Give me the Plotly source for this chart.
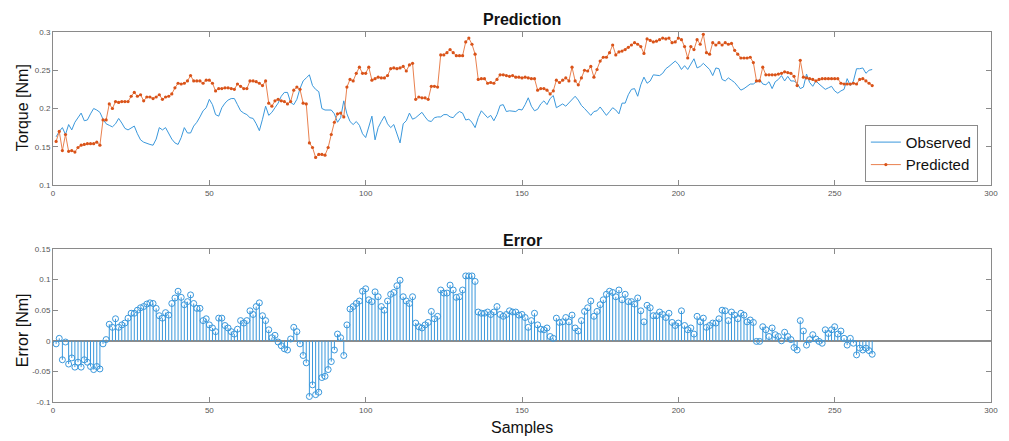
import plotly.graph_objects as go

samples = list(range(1, 263))

observed = [
    0.163, 0.170, 0.175, 0.166, 0.179, 0.172, 0.182, 0.188, 0.194, 0.184,
    0.185, 0.193, 0.200, 0.198, 0.195, 0.186, 0.180, 0.178, 0.176, 0.180,
    0.187, 0.181, 0.174, 0.172, 0.175, 0.177, 0.167, 0.159, 0.156, 0.155,
    0.153, 0.152, 0.160, 0.175, 0.172, 0.175, 0.167, 0.160, 0.155, 0.153,
    0.162, 0.175, 0.168, 0.168, 0.177, 0.182, 0.189, 0.197, 0.201, 0.212,
    0.205, 0.192, 0.190, 0.201, 0.207, 0.211, 0.213, 0.213, 0.205, 0.197,
    0.194, 0.192, 0.188, 0.187, 0.180, 0.171, 0.186, 0.203, 0.191, 0.195,
    0.201, 0.207, 0.216, 0.221, 0.221, 0.208, 0.205, 0.212, 0.226, 0.236,
    0.240, 0.244, 0.230, 0.225, 0.222, 0.200, 0.198, 0.198, 0.198, 0.193,
    0.182, 0.188, 0.210, 0.193, 0.183, 0.179, 0.183, 0.178, 0.167, 0.162,
    0.176, 0.190, 0.159, 0.175, 0.183, 0.190, 0.180, 0.175, 0.179, 0.168,
    0.155, 0.180, 0.184, 0.194, 0.186, 0.188, 0.192, 0.195, 0.189, 0.184,
    0.183, 0.188, 0.189, 0.189, 0.192, 0.192, 0.189, 0.188, 0.193, 0.196,
    0.194, 0.185, 0.186, 0.182, 0.175, 0.188, 0.197, 0.193, 0.188, 0.191,
    0.184, 0.192, 0.204, 0.205, 0.196, 0.197, 0.196, 0.196, 0.199, 0.198,
    0.205, 0.214, 0.203, 0.197, 0.199, 0.206, 0.210, 0.205, 0.213, 0.217,
    0.201, 0.204, 0.206, 0.203, 0.207, 0.211, 0.216, 0.211, 0.204, 0.200,
    0.195, 0.191, 0.196, 0.197, 0.202, 0.196, 0.191, 0.196, 0.201, 0.198,
    0.193, 0.207, 0.207, 0.218, 0.225, 0.226, 0.216, 0.231, 0.241, 0.233,
    0.236, 0.244, 0.243, 0.243, 0.246, 0.252, 0.255, 0.259, 0.262, 0.258,
    0.251, 0.256, 0.251, 0.258, 0.265, 0.253, 0.255, 0.259, 0.255, 0.251,
    0.243, 0.253, 0.252, 0.238, 0.236, 0.240, 0.237, 0.234, 0.229, 0.224,
    0.226, 0.229, 0.232, 0.232, 0.235, 0.238, 0.232, 0.231, 0.235, 0.226,
    0.235, 0.238, 0.243, 0.236, 0.242, 0.236, 0.236, 0.233, 0.226, 0.228,
    0.245, 0.234, 0.229, 0.236, 0.232, 0.229, 0.225, 0.227, 0.229, 0.223,
    0.220, 0.223, 0.225, 0.239, 0.230, 0.236, 0.252, 0.252, 0.253, 0.246,
    0.250, 0.251,
]

predicted = [
    0.157, 0.170, 0.145, 0.166, 0.144, 0.145, 0.143, 0.149, 0.152, 0.153,
    0.154, 0.154, 0.154, 0.156, 0.152, 0.185, 0.185, 0.206, 0.200, 0.209,
    0.208, 0.209, 0.209, 0.209, 0.216, 0.221, 0.216, 0.218, 0.210, 0.215,
    0.215, 0.213, 0.215, 0.218, 0.212, 0.215, 0.216, 0.219, 0.227, 0.233,
    0.232, 0.233, 0.236, 0.243, 0.236, 0.236, 0.236, 0.233, 0.237, 0.237,
    0.233, 0.223, 0.226, 0.226, 0.227, 0.227, 0.226, 0.225, 0.232, 0.229,
    0.226, 0.226, 0.236, 0.236, 0.235, 0.233, 0.230, 0.236, 0.207, 0.203,
    0.210, 0.212, 0.210, 0.209, 0.206, 0.209, 0.224, 0.228, 0.225, 0.207,
    0.206, 0.155, 0.149, 0.136, 0.140, 0.140, 0.139, 0.149, 0.166, 0.182,
    0.193, 0.194, 0.189, 0.228, 0.238, 0.236, 0.246, 0.254, 0.246, 0.246,
    0.254, 0.237, 0.239, 0.241, 0.240, 0.240, 0.243, 0.252, 0.253, 0.252,
    0.253, 0.255, 0.249, 0.257, 0.259, 0.212, 0.215, 0.214, 0.214, 0.212,
    0.229, 0.229, 0.228, 0.270, 0.270, 0.273, 0.277, 0.273, 0.269, 0.269,
    0.269, 0.287, 0.292, 0.284, 0.271, 0.238, 0.239, 0.239, 0.233, 0.234,
    0.233, 0.238, 0.244, 0.244, 0.243, 0.242, 0.243, 0.241, 0.241, 0.240,
    0.241, 0.240, 0.239, 0.239, 0.224, 0.226, 0.226, 0.224, 0.219, 0.223,
    0.237, 0.234, 0.237, 0.240, 0.236, 0.254, 0.236, 0.231, 0.240, 0.250,
    0.249, 0.255, 0.241, 0.251, 0.262, 0.267, 0.267, 0.273, 0.283, 0.270,
    0.274, 0.275, 0.277, 0.280, 0.283, 0.286, 0.284, 0.281, 0.272, 0.291,
    0.289, 0.287, 0.288, 0.290, 0.292, 0.291, 0.292, 0.286, 0.287, 0.292,
    0.290, 0.281, 0.266, 0.281, 0.277, 0.290, 0.284, 0.297, 0.273, 0.271,
    0.286, 0.283, 0.286, 0.283, 0.286, 0.284, 0.285, 0.276, 0.271, 0.266,
    0.266, 0.266, 0.267, 0.260, 0.236, 0.236, 0.254, 0.244, 0.244, 0.244,
    0.244, 0.245, 0.246, 0.248, 0.247, 0.246, 0.242, 0.230, 0.263, 0.241,
    0.240, 0.239, 0.238, 0.236, 0.238, 0.239, 0.239, 0.239, 0.239, 0.239,
    0.239, 0.233, 0.232, 0.232, 0.232, 0.233, 0.232, 0.238, 0.239, 0.236,
    0.233, 0.230,
]

error = [
    -0.005, 0.004, -0.031, -0.002, -0.038, -0.028, -0.043, -0.035, -0.043, -0.031,
    -0.035, -0.042, -0.047, -0.042, -0.046, -0.005, 0.002, 0.027, 0.022, 0.036,
    0.022, 0.026, 0.029, 0.037, 0.045, 0.045, 0.050, 0.054, 0.056, 0.060,
    0.062, 0.061, 0.053, 0.041, 0.037, 0.046, 0.042, 0.061, 0.070, 0.081,
    0.071, 0.059, 0.064, 0.075, 0.061, 0.053, 0.053, 0.033, 0.036, 0.026,
    0.021, 0.015, 0.037, 0.037, 0.025, 0.021, 0.015, 0.011, 0.019, 0.033,
    0.029, 0.033, 0.049, 0.043, 0.056, 0.062, 0.041, 0.033, 0.018, 0.005,
    0.009, -0.002, -0.008, -0.013, -0.015, 0.003, 0.022, 0.015, -0.005, -0.024,
    -0.036, -0.091, -0.072, -0.088, -0.084, -0.060, -0.058, -0.047, -0.034, -0.015,
    0.011, 0.005, -0.024, 0.026, 0.052, 0.056, 0.061, 0.065, 0.081, 0.085,
    0.067, 0.064, 0.080, 0.072, 0.056, 0.050, 0.065, 0.076, 0.079, 0.090,
    0.099, 0.072, 0.065, 0.061, 0.072, 0.029, 0.023, 0.021, 0.026, 0.030,
    0.048, 0.036, 0.040, 0.083, 0.078, 0.078, 0.091, 0.083, 0.071, 0.072,
    0.083, 0.106, 0.106, 0.106, 0.097, 0.047, 0.045, 0.045, 0.047, 0.043,
    0.047, 0.056, 0.043, 0.040, 0.043, 0.049, 0.047, 0.047, 0.042, 0.043,
    0.038, 0.022, 0.033, 0.045, 0.026, 0.019, 0.018, 0.021, 0.007, 0.004,
    0.037, 0.030, 0.031, 0.038, 0.031, 0.042, 0.021, 0.016, 0.033, 0.048,
    0.054, 0.065, 0.040, 0.048, 0.059, 0.067, 0.076, 0.081, 0.079, 0.072,
    0.083, 0.067, 0.076, 0.064, 0.064, 0.060, 0.070, 0.049, 0.031, 0.058,
    0.054, 0.041, 0.041, 0.047, 0.043, 0.038, 0.045, 0.030, 0.025, 0.029,
    0.049, 0.025, 0.018, 0.021, 0.011, 0.040, 0.031, 0.037, 0.022, 0.025,
    0.029, 0.029, 0.036, 0.050, 0.049, 0.033, 0.047, 0.042, 0.036, 0.045,
    0.042, 0.031, 0.034, 0.030, -0.001, -0.001, 0.023, 0.018, 0.007, 0.021,
    0.010, 0.007, 0.000, 0.014, 0.007, 0.002, -0.011, -0.015, 0.033, 0.016,
    -0.007, 0.002, 0.010, 0.003, -0.001, -0.004, 0.018, 0.012, 0.018, 0.023,
    0.011, 0.016, 0.004, -0.007, 0.004, -0.004, -0.023, -0.012, -0.015, -0.012,
    -0.016, -0.022,
]

x_ticks = [0, 50, 100, 150, 200, 250, 300]
top_y_ticks = [0.1, 0.15, 0.2, 0.25, 0.3]
top_y_text = ["0.1", "0.15", "0.2", "0.25", "0.3"]
bot_y_ticks = [-0.1, -0.05, 0, 0.05, 0.1, 0.15]
bot_y_text = ["-0.1", "-0.05", "0", "0.05", "0.1", "0.15"]

BLUE = "#3a98dc"
ORANGE_LINE = "#e9814f"
ORANGE = "#D95319"
AXIS = "#8a8a8a"
FONT = "Liberation Sans, Arial, Helvetica, sans-serif"

fig = go.Figure()

fig.add_trace(go.Scatter(
    x=samples, y=observed, mode="lines", name="Observed",
    line=dict(color=BLUE, width=1), xaxis="x", yaxis="y"))
fig.add_trace(go.Scatter(
    x=samples, y=predicted, mode="lines+markers", name="Predicted",
    line=dict(color=ORANGE_LINE, width=1), marker=dict(size=3.2, color=ORANGE),
    xaxis="x", yaxis="y"))

stem_x, stem_y = [], []
for s, e in zip(samples, error):
    stem_x += [s, s, None]
    stem_y += [0, e, None]
fig.add_trace(go.Scatter(
    x=stem_x, y=stem_y, mode="lines", line=dict(color=BLUE, width=1),
    showlegend=False, xaxis="x2", yaxis="y2", hoverinfo="skip"))
fig.add_trace(go.Scatter(
    x=samples, y=error, mode="markers", showlegend=False,
    marker=dict(symbol="circle-open", size=6, color=BLUE, line=dict(width=1)),
    xaxis="x2", yaxis="y2"))

common = dict(showline=True, linecolor=AXIS, linewidth=1, mirror="ticks",
              ticks="inside", ticklen=5, tickcolor=AXIS, tickwidth=1,
              showgrid=False, tickfont=dict(size=8, color="#555555", family=FONT))

fig.update_layout(
    width=1009, height=441,
    margin=dict(l=53, r=11, t=32, b=39),
    paper_bgcolor="white", plot_bgcolor="white",
    font=dict(family=FONT),
    xaxis=dict(domain=[0, 1], range=[0, 300], tickvals=x_ticks, anchor="y",
               zeroline=False, **common),
    yaxis=dict(domain=[0.5865, 1], range=[0.1, 0.3], tickvals=top_y_ticks,
               ticktext=top_y_text, anchor="x", zeroline=False, **common),
    xaxis2=dict(domain=[0, 1], range=[0, 300], tickvals=x_ticks, anchor="y2",
                zeroline=False, **common),
    yaxis2=dict(domain=[0, 0.4135], range=[-0.1, 0.15], tickvals=bot_y_ticks,
                ticktext=bot_y_text, anchor="x2", zeroline=True,
                zerolinecolor="#8c8c8c", zerolinewidth=1.5, **common),
    legend=dict(x=0.986, y=0.595, xanchor="right", yanchor="bottom",
                bgcolor="white", bordercolor=AXIS, borderwidth=1,
                font=dict(size=15, color="#111111", family=FONT),
                tracegroupgap=0, itemwidth=30),
    showlegend=True,
)

annos = [
    dict(text="<b>Prediction</b>", x=0.5, y=1.0351, size=16, angle=0),
    dict(text="<b>Error</b>", x=0.5, y=0.4378, size=16, angle=0),
    dict(text="Torque [Nm]", x=-0.0317, y=0.7946, size=16, angle=-90),
    dict(text="Error [Nm]", x=-0.0317, y=0.1946, size=16, angle=-90),
    dict(text="Samples", x=0.5, y=-0.0676, size=16, angle=0),
]
for a in annos:
    fig.add_annotation(text=a["text"], x=a["x"], y=a["y"], xref="paper", yref="paper",
                       xanchor="center", yanchor="middle", showarrow=False,
                       textangle=a["angle"],
                       font=dict(size=a["size"], color="#111111", family=FONT))

fig.write_html("out.html")
